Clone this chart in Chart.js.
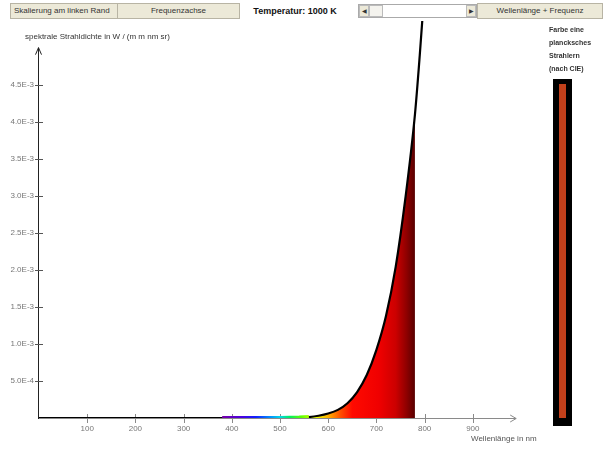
<!DOCTYPE html>
<html>
<head>
<meta charset="utf-8">
<script src="https://cdn.jsdelivr.net/npm/chart.js@4"></script>
<style>
  html, body { margin: 0; padding: 0; background: #fff; }
  body { width: 605px; height: 453px; position: relative; overflow: hidden; font-family: "Liberation Sans", Arial, sans-serif; }
  #c { position: absolute; left: 0; top: 0; }
  .bar { position: absolute; left: 0; top: 0; width: 605px; height: 21px; background: #fff; }
  .btn { position: absolute; top: 3px; height: 16px; background: #ece9d8; border: 1px solid #b8b4a4; box-sizing: border-box; font-size: 8px; color: #333; line-height: 14px; text-align: center; }
  .temp { position: absolute; top: 3px; left: 245px; width: 100px; height: 16px; line-height: 16px; font-size: 9px; font-weight: bold; text-align: center; color: #111; }
  .sb { position: absolute; top: 4px; left: 358px; width: 119px; height: 14px; border: 1px solid #aaa; box-sizing: border-box; background: #fff; }
  .sb .a { position: absolute; top: 0; width: 10px; height: 12px; background: #ece9d8; border: 1px solid #bbb; box-sizing: border-box; font-size: 6px; line-height: 10px; text-align: center; color: #333; }
  .sb .th { position: absolute; top: 0; left: 10px; width: 14px; height: 12px; background: #f4f3ee; border: 1px solid #bbb; box-sizing: border-box; }
  .side { position: absolute; left: 549px; top: 23px; font-size: 7px; font-weight: bold; color: #333; line-height: 13px; }
  .outer { position: absolute; left: 553px; top: 79px; width: 19px; height: 347px; background: #000; }
  .inner { position: absolute; left: 559px; top: 84px; width: 7px; height: 334px; background: #c2401b; }
</style>
</head>
<body>
<canvas id="c" width="605" height="453"></canvas>
<div class="bar">
  <div class="btn" style="left:10px;width:108px;text-align:left;padding-left:3px;">Skalierung am linken Rand</div>
  <div class="btn" style="left:117px;width:123px;">Frequenzachse</div>
  <div class="temp">Temperatur: 1000 K</div>
  <div class="sb"><div class="a" style="left:0;">&#9664;</div><div class="th"></div><div class="a" style="right:0;">&#9654;</div></div>
  <div class="btn" style="left:477px;width:126px;">Wellenlänge + Frequenz</div>
</div>
<div class="side">Farbe eine<br>plancksches<br>Strahlern<br>(nach CIE)</div>
<div class="outer"></div>
<div class="inner"></div>
<script>
// ---- data ----
const wavelengths = [0, 100, 200, 300, 380, 400, 450, 500, 520, 540, 560, 580, 600, 620, 640, 660, 680, 700, 720, 740, 760, 780, 790, 800];
const radiance    = [0, 0, 0, 0, 0, 0, 0, 0.000001, 0.000003, 0.000006, 0.000013, 0.00003, 0.00006, 0.00011, 0.00020, 0.00035, 0.00058, 0.00092, 0.00138, 0.00204, 0.00296, 0.00410, 0.00490, 0.00580];
const xTickValues = [100, 200, 300, 400, 500, 600, 700, 800, 900];
const yTickValues = [0.0005, 0.0010, 0.0015, 0.0020, 0.0025, 0.0030, 0.0035, 0.0040, 0.0045];
const yTickLabels = ["5.0E-4", "1.0E-3", "1.5E-3", "2.0E-3", "2.5E-3", "3.0E-3", "3.5E-3", "4.0E-3", "4.5E-3"];
const visibleRange = [380, 780];
const bandRange = [380, 560];
const yAxisTop = 0.005;
const xAxisEnd = 990;

const curvePts = wavelengths.map((w, i) => ({x: w, y: radiance[i]}));
const fillPts = curvePts.filter(p => p.x >= visibleRange[0] && p.x <= visibleRange[1]);
const bandPts = curvePts.filter(p => p.x >= bandRange[0] && p.x <= bandRange[1]);

const spectrumStops = [
  [380, '#7800a8'], [420, '#4a00e0'], [450, '#1020ff'], [480, '#0090ff'], [500, '#00d8e8'],
  [520, '#00f060'], [545, '#60ff00'], [575, '#f0ff00'], [600, '#ffb000'], [625, '#ff5000'],
  [650, '#ff0a00'], [705, '#f00000'], [740, '#cc0000'], [762, '#900000'], [780, '#580000']
];
function spectrum(chart) {
  const {ctx, chartArea, scales} = chart;
  if (!chartArea) return 'red';
  const x0 = scales.x.getPixelForValue(visibleRange[0]);
  const x1 = scales.x.getPixelForValue(visibleRange[1]);
  const g = ctx.createLinearGradient(x0, 0, x1, 0);
  spectrumStops.forEach(([w, c]) => g.addColorStop((w - visibleRange[0]) / (visibleRange[1] - visibleRange[0]), c));
  return g;
}

const FONT = '"Liberation Sans", Arial, sans-serif';

const axesPlugin = {
  id: 'axes',
  beforeDatasetsDraw(chart) {
    const {ctx, scales: {x, y}} = chart;
    const x0 = x.getPixelForValue(0), y0 = y.getPixelForValue(0);
    const yTop = y.getPixelForValue(yAxisTop);
    const xEnd = x.getPixelForValue(xAxisEnd);
    ctx.save();
    // x axis
    ctx.strokeStyle = '#8a8a8a'; ctx.lineWidth = 1;
    ctx.beginPath(); ctx.moveTo(x0, y0 + 0.5); ctx.lineTo(xEnd, y0 + 0.5); ctx.stroke();
    ctx.beginPath(); ctx.moveTo(xEnd - 6, y0 - 3); ctx.lineTo(xEnd, y0 + 0.5); ctx.lineTo(xEnd - 6, y0 + 4); ctx.stroke();
    x.ticks.forEach(t => {
      const px = Math.round(x.getPixelForValue(t.value)) + 0.5;
      ctx.beginPath(); ctx.moveTo(px, y0 - 4); ctx.lineTo(px, y0 + 5); ctx.stroke();
    });
    // y axis
    ctx.strokeStyle = '#222';
    ctx.beginPath(); ctx.moveTo(x0 - 0.5, y0 + 1); ctx.lineTo(x0 - 0.5, yTop); ctx.stroke();
    ctx.beginPath(); ctx.moveTo(x0 - 3.5, yTop + 7); ctx.lineTo(x0 - 0.5, yTop); ctx.lineTo(x0 + 2.5, yTop + 7); ctx.stroke();
    ctx.strokeStyle = '#555';
    y.ticks.forEach(t => {
      const py = Math.round(y.getPixelForValue(t.value)) + 0.5;
      ctx.beginPath(); ctx.moveTo(x0 - 4, py); ctx.lineTo(x0 + 4, py); ctx.stroke();
    });
    ctx.restore();
  },
  afterDraw(chart) {
    const {ctx} = chart;
    ctx.save();
    ctx.font = '8px ' + FONT;
    ctx.fillStyle = '#333';
    ctx.textBaseline = 'middle';
    ctx.textAlign = 'left';
    ctx.fillText('spektrale Strahldichte in W / (m m nm sr)', 25, 37);
    ctx.fillStyle = '#555';
    ctx.fillText('Wellenlänge in nm', 471, 439);
    ctx.restore();
  }
};

new Chart(document.getElementById('c'), {
  type: 'line',
  data: {
    datasets: [
      { data: bandPts, borderColor: ctx => spectrum(ctx.chart), borderWidth: 4, pointRadius: 0, fill: false, order: 0, borderCapStyle: 'butt' },
      { data: curvePts, borderColor: '#000', borderWidth: 2.2, pointRadius: 0, fill: false, order: 1, cubicInterpolationMode: 'monotone' },
      { data: fillPts, borderWidth: 0, borderColor: 'rgba(0,0,0,0)', backgroundColor: ctx => spectrum(ctx.chart), pointRadius: 0, fill: 'origin', order: 2, cubicInterpolationMode: 'monotone' }
    ]
  },
  options: {
    responsive: false,
    animation: false,
    layout: { padding: { left: 0, right: 84, top: 18, bottom: 0 } },
    plugins: { legend: { display: false }, tooltip: { enabled: false } },
    scales: {
      x: {
        type: 'linear', min: 0, max: 1000,
        grid: { display: false, drawTicks: false }, border: { display: false },
        afterBuildTicks: s => { s.ticks = xTickValues.map(v => ({value: v})); },
        afterFit: s => { s.height = 35; },
        ticks: { autoSkip: false, maxRotation: 0, padding: 6, color: '#777', font: { size: 8, family: FONT }, callback: v => String(v) }
      },
      y: {
        type: 'linear', min: 0, max: 0.0054,
        grid: { display: false, drawTicks: false }, border: { display: false },
        afterBuildTicks: s => { s.ticks = yTickValues.map(v => ({value: v})); },
        afterFit: s => { s.width = 39; },
        ticks: { autoSkip: false, padding: 5, color: '#777', font: { size: 8, family: FONT },
                 callback: (v) => { const i = yTickValues.indexOf(v); return i >= 0 ? yTickLabels[i] : ''; } }
      }
    }
  },
  plugins: [axesPlugin]
});
</script>
</body>
</html>
